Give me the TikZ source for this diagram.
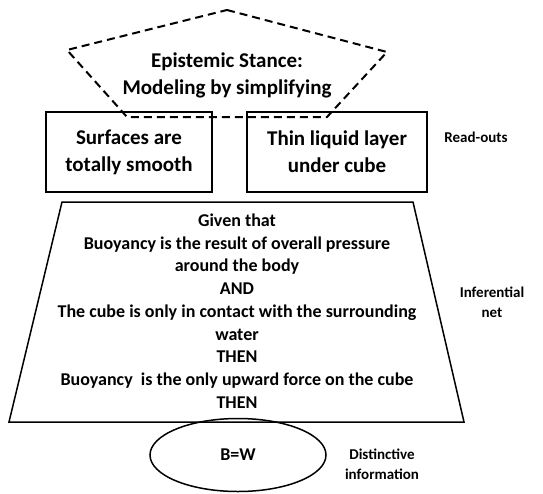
\documentclass[tikz,border=0pt]{standalone}
\usepackage{fontspec}
\setmainfont{Carlito}
\usetikzlibrary{shapes.geometric}
\begin{document}
\begin{tikzpicture}[x=1pt,y=-1pt,line join=miter]
\useasboundingbox (0,0) rectangle (543,493);
\tikzset{
 solidline/.style={draw,line width=1.5pt},
 dashline/.style={draw,line width=2pt,dash pattern=on 8pt off 5pt},
 big/.style={font=\bfseries\fontsize{21}{27}\selectfont,align=center},
 mid/.style={font=\bfseries\fontsize{18}{22.7}\selectfont,align=center},
 side/.style={font=\bfseries\fontsize{15}{20}\selectfont,align=center},
}
% epistemic stance pentagon
\coordinate (p1) at (227,10);
\coordinate (p2) at (387,52);
\coordinate (p3) at (327,117);
\coordinate (p4) at (127,117);
\coordinate (p5) at (67,50);
\draw[dashline] (p1) -- (p2) -- (p3) -- (p4) -- (p5) -- cycle;
\node[big] (stance) at (227,75) {Epistemic Stance:\\Modeling by simplifying};
% read-out boxes
\node[solidline,big,minimum width=166pt,minimum height=80pt,inner sep=0pt] (smooth) at (129,152) {Surfaces are\\totally smooth};
\node[solidline,big,minimum width=180pt,minimum height=80pt,inner sep=0pt] (layer) at (337,152) {Thin liquid layer\\under cube};
\node[side] (readouts) at (476,137) {Read-outs};
% inferential net trapezoid
\coordinate (t1) at (62,202);
\coordinate (t2) at (413,202);
\coordinate (t3) at (464,422);
\coordinate (t4) at (9,422);
\draw[solidline] (t1) -- (t2) -- (t3) -- (t4) -- cycle;
\node[mid] (net) at (237,311) {Given that\\Buoyancy is the result of overall pressure\\around the body\\AND\\The cube is only in contact with the surrounding\\water\\THEN\\Buoyancy~ is the only upward force on the cube\\THEN};
\node[side] (inferential) at (492,302) {Inferential\\net};
% distinctive information
\node[solidline,ellipse,minimum width=176pt,minimum height=73pt,inner sep=0pt,mid] (bw) at (238,455) {B=W};
\node[side] (distinctive) at (382,464) {Distinctive\\information};
\end{tikzpicture}
\end{document}
